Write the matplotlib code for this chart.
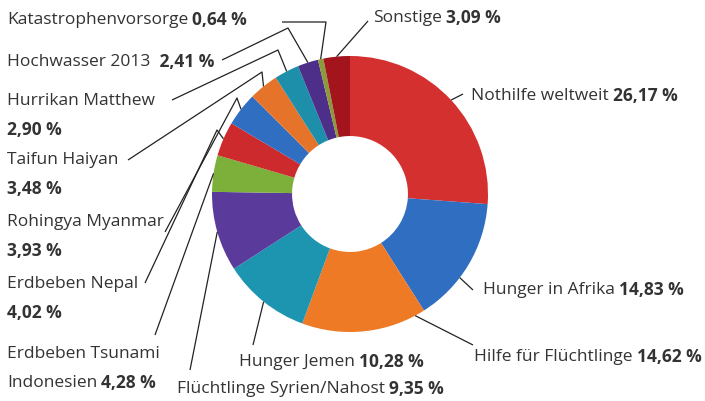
import numpy as np
import matplotlib
matplotlib.use("Agg")
import matplotlib.pyplot as plt

plt.rcParams['font.family'] = ['Open Sans', 'DejaVu Sans']

# ==============================
# data
# ==============================
names = [
    "Nothilfe weltweit", "Hunger in Afrika", "Hilfe für Flüchtlinge",
    "Hunger Jemen", "Flüchtlinge Syrien/Nahost", "Erdbeben Tsunami Indonesien",
    "Erdbeben Nepal", "Rohingya Myanmar", "Taifun Haiyan", "Hurrikan Matthew",
    "Hochwasser 2013", "Katastrophenvorsorge", "Sonstige",
]
shares = [26.17, 14.83, 14.62, 10.28, 9.35, 4.28, 4.02, 3.93, 3.48, 2.90, 2.41, 0.64, 3.09]
colors = [
    "#d4302f", "#2f6ec0", "#ef7a25", "#1e95b0", "#5a3a9a", "#7db03b",
    "#cc2a2c", "#2f6ec0", "#e5732a", "#1e8fab", "#4d2f8a", "#8c9a3c", "#a3141c",
]

# ==============================
# layout (pixel coords, y down)
# ==============================
W, H = 705, 401
CX, CY, R = 350, 194, 138
HOLE = 0.42

# per slice: text rows (regular, bold), text position, line start, elbow, anchor pos within wedge
labels = [
    ([("Nothilfe weltweit", "26,17 %")], (471, 96), (463, 94), None, 0.5),
    ([("Hunger in Afrika", "14,83 %")], (483, 290), (473, 290), None, 0.62),
    ([("Hilfe für Flüchtlinge", "14,62 %")], (474, 357), (473, 345), None, 0.08),
    ([("Hunger Jemen", "10,28 %")], (239, 362), (253, 345), None, 0.5),
    ([("Flüchtlinge Syrien/Nahost", "9,35 %")], (177, 389), (190, 370), None, 0.5),
    ([("Erdbeben Tsunami", ""), ("Indonesien", "4,28 %")], (7, 354), (155, 335), None, 0.5),
    ([("Erdbeben Nepal", ""), ("", "4,02 %")], (7, 284), (145, 283), (217, 130), 0.5),
    ([("Rohingya Myanmar", ""), ("", "3,93 %")], (7, 222), (165, 232), (237, 98), 0.5),
    ([("Taifun Haiyan", ""), ("", "3,48 %")], (7, 160), (128, 160), (262, 72), 0.5),
    ([("Hurrikan Matthew", ""), ("", "2,90 %")], (7, 101), (172, 100), (278, 50), 0.5),
    ([("Hochwasser 2013", " 2,41 %")], (7, 62), (222, 60), (288, 28), 0.5),
    ([("Katastrophenvorsorge", "0,64 %")], (7, 20), (282, 22), (326, 22), 0.5),
    ([("Sonstige", "3,09 %")], (373, 18), (368, 21), None, 0.5),
]

TEXT_COLOR = "#333333"
FS = 12.5
ROW = 29

fig = plt.figure(figsize=(W / 100, H / 100), dpi=100)
ax = fig.add_axes([0, 0, 1, 1])

# y axis points down below, so ccw in data looks clockwise on screen
ax.pie(shares, colors=colors, startangle=-90, counterclock=True,
       center=(CX, CY), radius=R,
       wedgeprops=dict(width=R * (1 - HOLE), linewidth=0))

ax.set_xlim(0, W)
ax.set_ylim(H, 0)
ax.set_aspect('equal')
ax.axis('off')

# leader lines + labels
bounds = np.concatenate([[0], np.cumsum(shares)]) / np.sum(shares) * 360.0
for i, (rows, (tx, ty), start, elbow, frac) in enumerate(labels):
    ang = np.deg2rad(-90 + bounds[i] + frac * (bounds[i + 1] - bounds[i]))
    end = (CX + R * np.cos(ang), CY + R * np.sin(ang))
    pts = [start] + ([elbow] if elbow else []) + [end]
    xs, ys = zip(*pts)
    ax.plot(xs, ys, color="#222222", lw=0.9, solid_capstyle='butt')

    for k, (reg, bold) in enumerate(rows):
        y = ty + k * ROW
        if reg:
            t = ax.text(tx, y, reg, ha='left', va='center', fontsize=FS, color=TEXT_COLOR)
            if bold:
                ax.annotate(bold, xy=(1, 0.5), xycoords=t, xytext=(3, 0),
                            textcoords='offset points', ha='left', va='center',
                            fontsize=FS, fontweight='bold', color=TEXT_COLOR)
        else:
            ax.text(tx, y, bold, ha='left', va='center', fontsize=FS,
                    fontweight='bold', color=TEXT_COLOR)

fig.savefig("out.png", dpi=100)
